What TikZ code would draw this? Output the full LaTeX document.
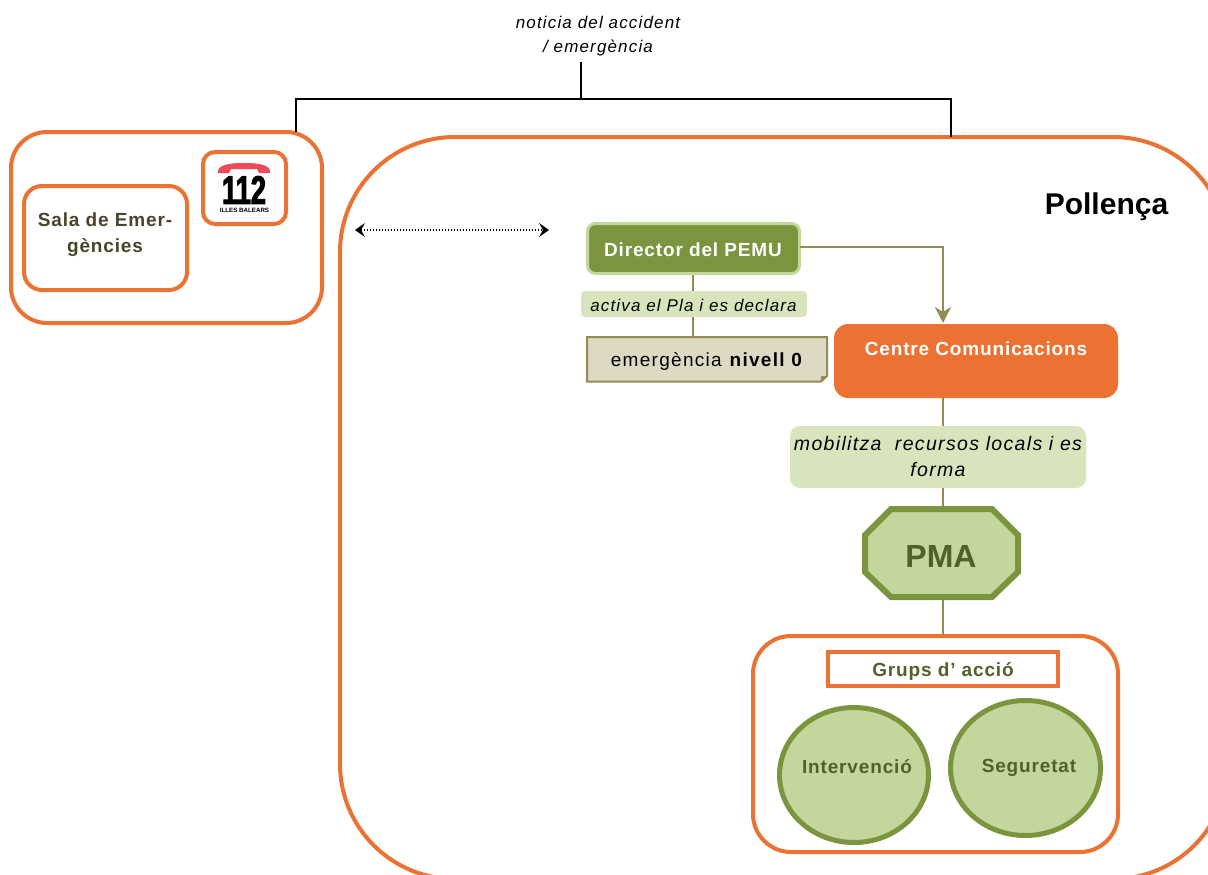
\documentclass[tikz,border=0pt]{standalone}
\usepackage{fontspec}
\setmainfont{Liberation Sans}
\newfontfamily\spaced[LetterSpace=6.8]{Liberation Sans}
\newfontfamily\spacedb[LetterSpace=4.5]{Liberation Sans}
\newfontfamily\logofont[FakeBold=2.5,FakeStretch=0.68]{Liberation Sans}
\usetikzlibrary{arrows.meta}
\definecolor{orng}{HTML}{EB7232}
\definecolor{grn}{HTML}{7A953D}
\definecolor{lgrn}{HTML}{C3D69B}
\definecolor{pgrn}{HTML}{D8E4BC}
\definecolor{dgrn}{HTML}{4F6228}
\definecolor{tan}{HTML}{948A54}
\definecolor{ptan}{HTML}{DDD9C3}
\definecolor{olive}{HTML}{4A452A}
\definecolor{redt}{HTML}{EE4A5C}
\newcommand{\fsz}[1]{\fontsize{#1pt}{#1pt}\selectfont}
\tikzset{
  x=1pt,y=-1pt,
  basebox/.style={anchor=north west,inner sep=0pt,outer sep=0pt,align=center},
  orangeframe/.style={basebox,draw=orng,line width=4pt,fill=white},
  conn/.style={draw=tan,line width=2pt},
  blackconn/.style={draw=black,line width=1.5pt},
  pill/.style={basebox,fill=pgrn,text=black},
  plaintext/.style={inner sep=0pt,align=center},
  boldlabel/.style={plaintext,font=\spacedb\bfseries\fsz{19}},
  roundshape/.style={draw=grn,line width=5pt,fill=lgrn},
}
\begin{document}
\begin{tikzpicture}
\useasboundingbox (0,0) rectangle (1208,875);
\clip (0,0) rectangle (1208,875);
\fill[white] (0,0) rectangle (1208,875);

% outer frames
\node[orangeframe,rounded corners=36pt,minimum width=311pt,minimum height=191pt] (sala) at (11,132) {};
\node[orangeframe,rounded corners=18pt,minimum width=163pt,minimum height=104pt] (salain) at (24,186) {};
\node[boldlabel,text=olive] (salatxt) at (105,235) {Sala de Emer-\\[7pt]gències};
\node[orangeframe,rounded corners=115pt,minimum width=888pt,minimum height=742pt] (poll) at (340,137) {};
\node[plaintext,font=\bfseries\fsz{30}] (polltxt) at (1106.5,207) {Pollença};

% logo
\node[basebox,draw=orng,line width=4pt,rounded corners=12pt,minimum width=83pt,minimum height=72pt] (logo) at (203,152) {};
\fill[redt] (218,173) .. controls (217,165) and (228,163) .. (244,163) .. controls (260,163) and (271,165) .. (270,173) -- (259,173) -- (257,169) -- (231,169) -- (229,173) -- cycle;
\node[plaintext,font=\logofont\bfseries\fsz{40}] (num) at (244,190) {112};
\node[plaintext,font=\bfseries\fsz{6.2}] (ib) at (244.5,210) {ILLES BALEARS};

% top note and bus
\node[plaintext,font=\spaced\itshape\fsz{17}] (note) at (598,36) {noticia del accident\\[7pt]/ emergència};
\coordinate (bus) at (581,99);
\coordinate (busL) at (296,99);
\coordinate (busR) at (951,99);
\coordinate (noteB) at (581,62);
\draw[blackconn] (bus) -- (noteB);
\draw[blackconn] (sala.north -| busL) -- (busL) -- (busR) -- (poll.north -| busR);

% dotted link
\coordinate (dl) at (355,230);
\coordinate (dr) at (549,230);
\draw[black,line width=1.3pt,dash pattern=on 1.3pt off 1.7pt,{Stealth[length=10pt,width=14pt,inset=4pt]}-{Stealth[length=10pt,width=14pt,inset=4pt]}] (dl) -- (dr);

% connectors under the boxes
\coordinate (vtop) at (943,398);
\coordinate (vbot) at (943,635);
\coordinate (dirB) at (693,274);
\coordinate (emT) at (693,336);
\coordinate (dirY) at (0,247);
\coordinate (arrowEnd) at (943,323);
\draw[conn] (dirB) -- (emT);
\draw[conn] (vtop) -- (vbot);

% boxes
\node[basebox,draw=lgrn,fill=grn,line width=3pt,rounded corners=8pt,minimum width=212pt,minimum height=50pt] (dir) at (587.5,223.5) {};
\node[boldlabel,text=white] (dirt) at (693,250) {Director del PEMU};
\node[pill,rounded corners=4pt,minimum width=226pt,minimum height=26pt] (act) at (581,291) {};
\node[plaintext,font=\spaced\itshape\fsz{17}] (actt) at (693.5,305) {activa el Pla i es declara};
\draw[draw=tan,fill=ptan,line width=2pt] (587,337) -- (827,337) -- (827,376) -- (821,381.5) -- (587,381.5) -- cycle;
\node[plaintext,font=\spaced\fsz{19}] (emt) at (707,361) {emergència \textbf{nivell 0}};
\fill[tan] (821,381.5) -- (821,376) -- (827,376) -- cycle;
\node[basebox,fill=orng,rounded corners=14pt,minimum width=284pt,minimum height=74pt] (cc) at (834,324) {};
\node[boldlabel,text=white] (cct) at (976,349) {Centre Comunicacions};
\draw[conn,-{Stealth[length=16pt,width=16pt,inset=5pt]}] (dir.east |- dirY) -| (arrowEnd);
\node[pill,rounded corners=10pt,minimum width=296pt,minimum height=62pt] (mob) at (790,426) {};
\node[plaintext,font=\spaced\itshape\fsz{19.5}] (mobt) at (938,457) {mobilitza\ \ recursos locals i es\\[6.5pt]forma};

\draw[draw=grn,fill=lgrn,line width=6pt] (891,509) -- (992,509) -- (1018,535) -- (1018,572) -- (992,597) -- (891,597) -- (865,572) -- (865,535) -- cycle;
\node[plaintext,text=dgrn,font=\bfseries\fsz{32}] (pma) at (941,556) {PMA};

\node[orangeframe,rounded corners=38pt,minimum width=365pt,minimum height=216pt] (grp) at (753,636) {};
\node[basebox,draw=orng,fill=white,line width=4pt,minimum width=230pt,minimum height=34pt] (grpt) at (827.5,652) {};
\node[boldlabel,text=dgrn] (grptt) at (943,671) {Grups d’ acció};

\fill[roundshape] (854,775) ellipse [x radius=74.5pt,y radius=67.5pt];
\node[boldlabel,text=dgrn] (intt) at (857,767) {Intervenció};
\fill[roundshape] (1025.5,768) ellipse [x radius=75pt,y radius=67.5pt];
\node[boldlabel,text=dgrn] (segt) at (1029,768) {Seguretat};
\end{tikzpicture}
\end{document}
